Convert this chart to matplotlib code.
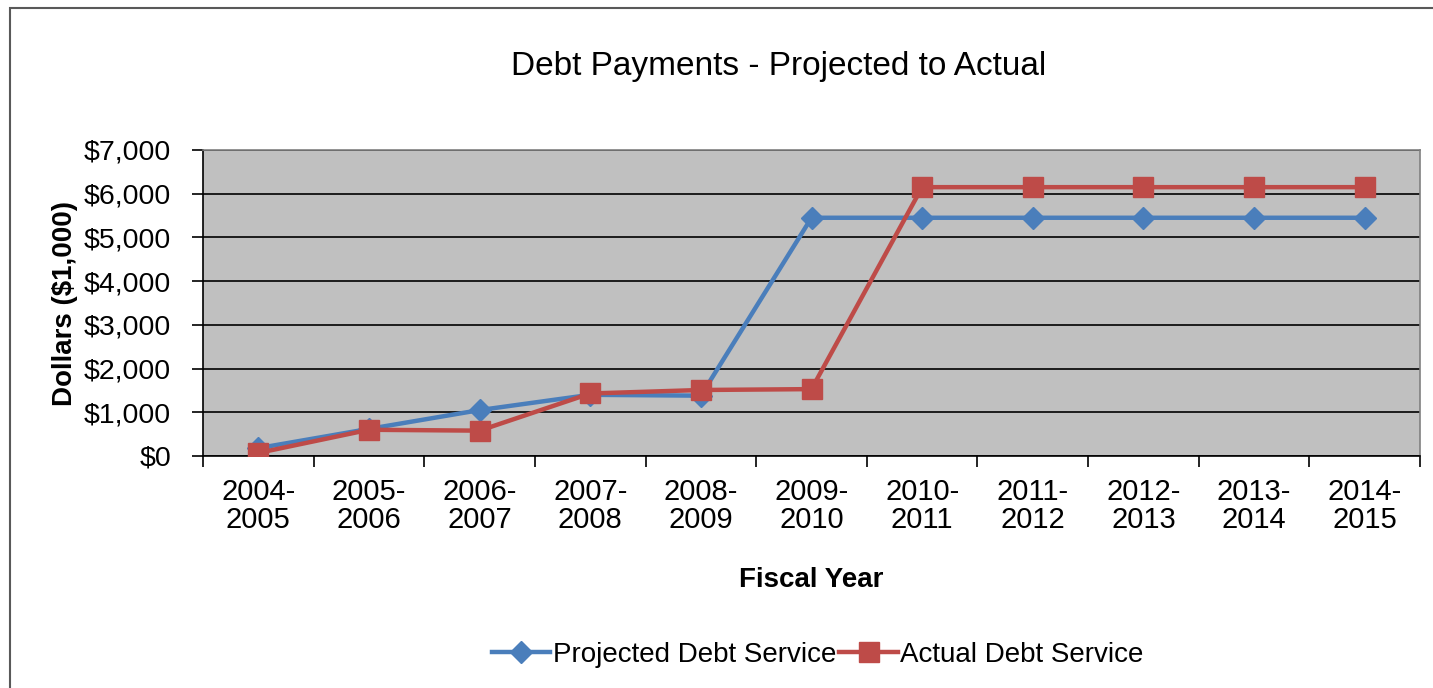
import matplotlib.pyplot as plt
from matplotlib.patches import Rectangle

plt.rcParams['font.family'] = ['Liberation Sans', 'DejaVu Sans']

years = ["2004-\n2005", "2005-\n2006", "2006-\n2007", "2007-\n2008", "2008-\n2009",
         "2009-\n2010", "2010-\n2011", "2011-\n2012", "2012-\n2013", "2013-\n2014",
         "2014-\n2015"]
projected = [180, 620, 1050, 1400, 1380, 5450, 5450, 5450, 5450, 5450, 5450]
actual = [70, 600, 580, 1430, 1510, 1530, 6150, 6150, 6150, 6150, 6150]

fig = plt.figure(figsize=(14.33, 6.88), dpi=100)
# outer chart border
fig.patches.append(Rectangle((10 / 1433, -0.1), 1.1, 1 - 8 / 688 + 0.1,
                             transform=fig.transFigure, fill=False,
                             edgecolor='#595959', linewidth=1.5))

ax = fig.add_axes([203 / 1433, 1 - 456 / 688, (1420 - 203) / 1433, (456 - 150) / 688])
ax.set_facecolor('#C0C0C0')

x = list(range(len(years)))
ax.plot(x, projected, color='#4A7EBB', linewidth=3.2, marker='D', markersize=11,
        label='Projected Debt Service', zorder=3)
ax.plot(x, actual, color='#BE4B48', linewidth=3.2, marker='s', markersize=14,
        label='Actual Debt Service', zorder=4)

ax.set_xlim(-0.5, len(years) - 0.5)
ax.set_ylim(0, 7000)
ax.set_yticks(range(0, 7001, 1000))
ax.set_yticklabels(['${:,}'.format(v) for v in range(0, 7001, 1000)], fontsize=20.5)
ax.set_xticks([i - 0.5 for i in range(len(years) + 1)])
ax.set_xticklabels([])
ax.set_xticks(x, minor=True)
ax.set_xticklabels(years, minor=True, fontsize=21, linespacing=1.0)
ax.tick_params(axis='x', which='minor', length=0, pad=16)
ax.tick_params(axis='x', which='major', length=8, width=1.2, color='black')
ax.tick_params(axis='y', length=8, width=1.2, color='black', pad=15)

ax.grid(axis='y', color='black', linewidth=1.2, zorder=1)
ax.set_axisbelow(True)
for s in ['left', 'bottom']:
    ax.spines[s].set_color('black')
    ax.spines[s].set_linewidth(1.2)
for s in ['top', 'right']:
    ax.spines[s].set_color('#808080')
    ax.spines[s].set_linewidth(1.2)

ax.set_ylabel('Dollars ($1,000)', fontsize=20, fontweight='bold')
ax.yaxis.set_label_coords(-125 / 1217, 0.5)
ax.set_xlabel('Fiscal Year', fontsize=20, fontweight='bold')
ax.xaxis.set_label_coords(0.5, -(567 - 456) / 306)
fig.text(779 / 1433, 1 - 67 / 688, 'Debt Payments - Projected to Actual',
         fontsize=24, ha='center', va='center')

fig.legend(loc='center', bbox_to_anchor=(818 / 1433, 1 - 655 / 688), ncol=2,
           frameon=False, fontsize=20, handlelength=2.1, handletextpad=0.1,
           columnspacing=0.1)

fig.savefig('out.png', dpi=100)
